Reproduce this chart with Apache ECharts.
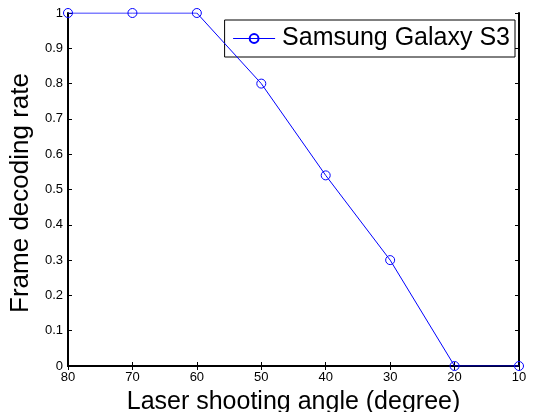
<!DOCTYPE html>
<html>
<head>
<meta charset="utf-8">
<script src="https://cdn.jsdelivr.net/npm/echarts@6/dist/echarts.min.js"></script>
<style>
html, body { margin: 0; padding: 0; background: #fff; }
#chart { width: 534px; height: 412px; }
</style>
</head>
<body>
<div id="chart"></div>
<script>
// laser angle (degree) vs frame decoding rate
const angles = [80, 70, 60, 50, 40, 30, 20, 10]
const rates = [1, 1, 1, 0.8, 0.54, 0.3, 0, 0]
const seriesName = 'Samsung Galaxy S3'

const font = 'Liberation Sans, Arial, sans-serif'
const chart = echarts.init(document.getElementById('chart'))

const tickStyle = { show: true, inside: true, length: 4, lineStyle: { color: '#000', width: 1 } }
const lineStyle = { lineStyle: { color: '#000', width: 2 } }

let option = {
  animation: false,
  grid: { left: 68, right: 15, top: 13, bottom: 46, containLabel: false, outerBoundsMode: 'none' },
  legend: {
    data: [seriesName],
    right: 19,
    top: 20,
    itemWidth: 42,
    itemHeight: 11,
    padding: [6, 5, 6, 8],
    borderColor: '#000',
    borderWidth: 1,
    backgroundColor: '#fff',
    lineStyle: { width: 1 },
    textStyle: { fontFamily: font, fontSize: 25, color: '#000', padding: [0, 0, 0, 2] }
  },
  xAxis: [
    {
      type: 'value', min: 10, max: 80, interval: 10, inverse: true,
      name: 'Laser shooting angle (degree)', nameLocation: 'middle', nameGap: 24,
      nameTextStyle: { fontFamily: font, fontSize: 25, color: '#000' },
      axisLine: lineStyle, axisTick: tickStyle, splitLine: { show: false },
      axisLabel: { fontFamily: font, fontSize: 13, color: '#000', margin: 5 }
    },
    {
      type: 'value', min: 10, max: 80, interval: 10, inverse: true, position: 'top',
      axisLine: lineStyle, axisTick: tickStyle, splitLine: { show: false },
      axisLabel: { show: false }
    }
  ],
  yAxis: [
    {
      type: 'value', min: 0, max: 1, interval: 0.1,
      name: 'Frame decoding rate', nameLocation: 'middle', nameGap: 27,
      nameTextStyle: { fontFamily: font, fontSize: 26, color: '#000', padding: [0, 7, 0, 0] },
      axisLine: lineStyle, axisTick: tickStyle, splitLine: { show: false },
      axisLabel: {
        fontFamily: font, fontSize: 13, color: '#000', margin: 5,
        formatter: v => (v === 0 || v === 1) ? String(v) : v.toFixed(1)
      }
    },
    {
      type: 'value', min: 0, max: 1, interval: 0.1, position: 'right',
      axisLine: lineStyle, axisTick: tickStyle, splitLine: { show: false },
      axisLabel: { show: false }
    }
  ],
  series: [
    {
      name: seriesName,
      type: 'line',
      data: angles.map((a, i) => [a, rates[i]]),
      symbol: 'circle',
      symbolSize: 9,
      showAllSymbol: true,
      itemStyle: { color: 'rgba(0,0,0,0)', borderColor: '#0000ff', borderWidth: 1 },
      lineStyle: { color: '#0000ff', width: 1 },
      z: 5
    }
  ]
}

chart.setOption(option)
</script>
</body>
</html>
